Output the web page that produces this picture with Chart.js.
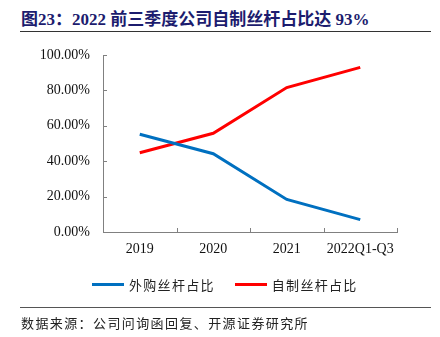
<!DOCTYPE html>
<html>
<head>
<meta charset="utf-8">
<script src="https://cdn.jsdelivr.net/npm/chart.js@4/dist/chart.umd.min.js"></script>
<style>
  html, body { margin:0; padding:0; background:#fff; }
  body { width:440px; height:337px; position:relative; overflow:hidden; }
  #title { position:absolute; left:21px; top:5px; font-family:"Liberation Serif","Noto Sans CJK SC",serif; font-weight:bold; font-size:17px; color:#1c1c6e; white-space:nowrap; }
  #rule1 { position:absolute; left:20px; top:31px; width:411px; height:0; border-top:1px solid #333; }
  #rule2 { position:absolute; left:20px; top:307px; width:411px; height:0; border-top:1px solid #555; }
  #src { position:absolute; left:21px; top:313px; font-family:"Noto Sans CJK SC",sans-serif; font-size:13px; letter-spacing:1.4px; color:#222; white-space:nowrap; }
  #chartwrap { position:absolute; left:0; top:0; width:440px; height:337px; }
  #legend { position:absolute; top:271px; left:92px; font-family:"Noto Sans CJK SC",sans-serif; font-size:13px; letter-spacing:1.3px; color:#222; white-space:nowrap; }
  .li { display:inline-flex; align-items:center; margin-right:20px; }
  .sw { display:inline-block; width:32px; height:3px; margin-right:5px; }
</style>
</head>
<body>
<div id="title">图23：2022 前三季度公司自制丝杆占比达 93%</div>
<div id="rule1"></div>
<div id="chartwrap"><canvas id="c" width="440" height="337"></canvas></div>
<div id="legend"></div>
<div id="rule2"></div>
<div id="src">数据来源：公司问询函回复、开源证券研究所</div>
<script>
const categories = ["2019", "2020", "2021", "2022Q1-Q3"];
const seriesNames = ["外购丝杆占比", "自制丝杆占比"];
const purchased = [55.2, 44.2, 18.4, 7.0];
const selfMade = [44.8, 55.8, 81.6, 93.0];
const yTicks = [0, 20, 40, 60, 80, 100];
const colors = ["#0070C0", "#FF0000"];

const inwardTicks = {
  id: 'inwardTicks',
  afterDraw(chart) {
    const ctx = chart.ctx, a = chart.chartArea;
    const ys = chart.scales.y, xs = chart.scales.x;
    ctx.save();
    ctx.strokeStyle = '#808080';
    ctx.lineWidth = 1;
    ctx.beginPath();
    yTicks.forEach(v => {
      const y = Math.round(ys.getPixelForValue(v)) + 0.5;
      ctx.moveTo(a.left, y); ctx.lineTo(a.left + 4, y);
    });
    const n = categories.length;
    for (let i = 1; i <= n; i++) {
      const x = Math.round(xs.getPixelForValue(i - 0.5)) + 0.5;
      ctx.moveTo(x, a.bottom); ctx.lineTo(x, a.bottom - 4);
    }
    ctx.stroke();
    ctx.restore();
  }
};

new Chart(document.getElementById('c'), {
  type: 'line',
  data: {
    labels: categories,
    datasets: [
      { label: seriesNames[0], data: purchased, borderColor: colors[0], backgroundColor: colors[0], borderWidth: 3, pointRadius: 0, tension: 0 },
      { label: seriesNames[1], data: selfMade, borderColor: colors[1], backgroundColor: colors[1], borderWidth: 3, pointRadius: 0, tension: 0 }
    ]
  },
  options: {
    responsive: false,
    animation: false,
    layout: { padding: { top: 55, right: 43, bottom: 75, left: 0 } },
    plugins: { legend: { display: false }, title: { display: false }, tooltip: { enabled: false } },
    scales: {
      x: {
        offset: true,
        grid: { display: false, drawTicks: false },
        border: { display: true, color: '#808080', width: 1 },
        ticks: { padding: 9, color: '#111', font: { family: 'Liberation Serif', size: 14 }, maxRotation: 0 },
        afterFit(s) { s.height = 30; }
      },
      y: {
        min: 0, max: 100,
        afterBuildTicks(s) { s.ticks = yTicks.map(v => ({ value: v })); },
        grid: { display: false, drawTicks: false },
        border: { display: true, color: '#808080', width: 1 },
        ticks: { padding: 13, color: '#111', font: { family: 'Liberation Serif', size: 14 }, callback: v => v.toFixed(2) + '%' },
        afterFit(s) { s.width = 103; }
      }
    }
  },
  plugins: [inwardTicks]
});

const lg = document.getElementById('legend');
seriesNames.forEach((name, i) => {
  const item = document.createElement('span');
  item.className = 'li';
  const sw = document.createElement('span');
  sw.className = 'sw';
  sw.style.background = colors[i];
  item.appendChild(sw);
  item.appendChild(document.createTextNode(name));
  lg.appendChild(item);
});
</script>
</body>
</html>
